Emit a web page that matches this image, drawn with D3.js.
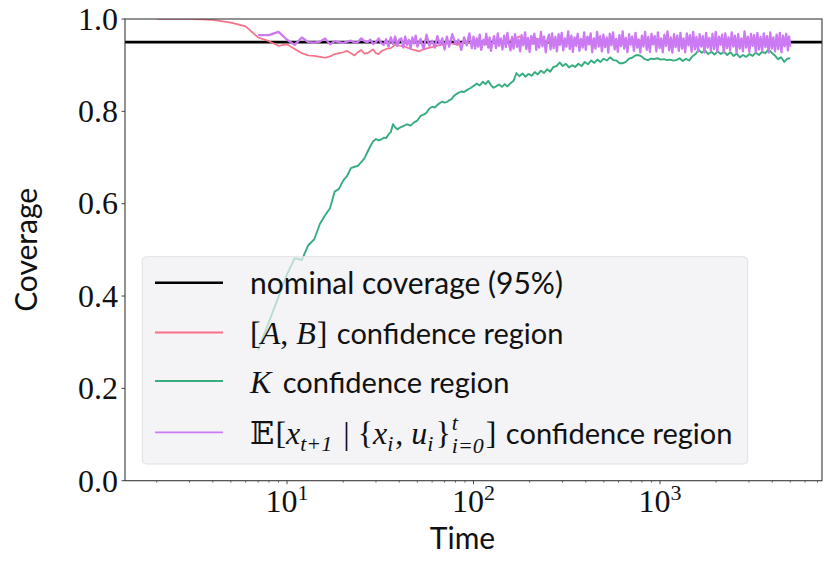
<!DOCTYPE html>
<html lang="en">
<head>
<meta charset="UTF-8">
<title>Coverage</title>
<script src="https://d3js.org/d3.v7.min.js"></script>
<style>
  body { margin: 0; background: #fff; }
</style>
</head>
<body>
<svg id="chart"></svg>
<script>
  // nominal coverage level
  const nominal = 0.95

  // [A, B] confidence region
  const redT = [2, 3, 4, 5, 6, 7, 8, 9, 10, 11, 12, 13, 14, 15, 16, 17, 18, 19, 20, 21,
    22, 23, 24, 25, 26, 27, 28, 29, 30, 31, 32, 34, 36, 38, 40, 43, 46, 49, 51, 54,
    57, 61, 65, 69,
    75, 82, 90, 99, 109, 120, 132, 145, 160, 176,
    194, 213, 234, 258, 284, 312, 343, 378, 415, 457,
    503, 553, 608, 669, 736, 810, 891, 980, 1078, 1186,
    1305, 1435, 1579, 1737, 1910, 2101, 2311, 2543, 2797, 3077,
    3384, 3723, 4095, 4505, 5000]
  const redV = [1.0, 1.0, 0.998, 0.992, 0.984, 0.96, 0.952, 0.942, 0.945, 0.935,
    0.926, 0.921, 0.92, 0.918, 0.916, 0.919, 0.924, 0.926, 0.928, 0.931,
    0.926, 0.921, 0.928, 0.933, 0.925, 0.926, 0.93, 0.934, 0.926, 0.924,
    0.93, 0.935, 0.937, 0.944, 0.942, 0.94, 0.935, 0.932, 0.93, 0.934,
    0.937, 0.94, 0.943, 0.945,
    0.948, 0.944, 0.951, 0.946, 0.95, 0.944, 0.952, 0.947, 0.955, 0.962,
    0.95, 0.96, 0.947, 0.952, 0.944, 0.953, 0.948, 0.955, 0.945, 0.952,
    0.946, 0.954, 0.944, 0.951, 0.947, 0.955, 0.945, 0.952, 0.948, 0.954,
    0.946, 0.951, 0.944, 0.953, 0.947, 0.952, 0.945, 0.953, 0.948, 0.951,
    0.946, 0.952, 0.947, 0.95, 0.948]

  // K confidence region
  const greenT = [7, 8, 9, 10, 11, 12, 13, 14, 15, 16,
    17, 18, 19, 20, 21, 22, 23, 24, 25, 26,
    27, 28, 29, 30, 31, 32, 33, 34, 35, 36,
    37, 38, 39, 40, 42, 44, 46, 48, 50, 52,
    54, 56, 58, 60, 62, 64, 66, 68, 70, 72,
    74, 76, 78, 80, 83, 86, 89, 92, 96, 100,
    104, 108, 112, 116, 120, 124, 128, 132, 137, 142,
    147, 152, 158, 164, 170, 176, 183, 190, 197, 205,
    213, 221, 230, 239, 248, 258, 268, 279, 290, 301,
    313, 325, 338, 351, 365, 380, 395, 411, 427, 444,
    462, 480, 499, 519, 540, 562, 584, 607, 631, 656,
    682, 709, 737, 766, 797, 829, 862, 896, 932, 969,
    1008, 1048, 1090, 1133, 1178, 1225, 1274, 1325, 1378, 1433,
    1490, 1550, 1612, 1676, 1743, 1813, 1885, 1960, 2038, 2120,
    2205, 2293, 2385, 2480, 2579, 2682, 2789, 2901, 3017, 3138,
    3263, 3394, 3530, 3671, 3818, 3970, 4130, 4290, 4460, 4640,
    4820, 5000]
  const greenV = [0.283, 0.344, 0.398, 0.447, 0.482, 0.478, 0.51, 0.523, 0.556, 0.575,
    0.59, 0.626, 0.632, 0.65, 0.66, 0.677, 0.68, 0.682, 0.69, 0.698,
    0.712, 0.725, 0.735, 0.74, 0.737, 0.739, 0.743, 0.742, 0.75, 0.755,
    0.772, 0.766, 0.761, 0.764, 0.768, 0.772, 0.769, 0.776, 0.78, 0.79,
    0.793, 0.797, 0.806, 0.81, 0.808, 0.814, 0.818, 0.821, 0.819, 0.82,
    0.824, 0.826, 0.832, 0.836, 0.84, 0.843, 0.842, 0.846, 0.85, 0.855,
    0.86, 0.856, 0.864, 0.859, 0.866, 0.857, 0.851, 0.854, 0.858, 0.853,
    0.859, 0.854, 0.861, 0.866, 0.883, 0.876, 0.882, 0.875, 0.881, 0.877,
    0.885, 0.88, 0.888, 0.883, 0.891, 0.886, 0.896, 0.898, 0.906, 0.898,
    0.903, 0.895, 0.9, 0.896, 0.903, 0.898, 0.907, 0.902, 0.91, 0.905,
    0.912, 0.907, 0.914, 0.91, 0.917, 0.911, 0.91, 0.904, 0.904, 0.907,
    0.914, 0.916, 0.921, 0.922, 0.919, 0.913, 0.911, 0.914, 0.913, 0.915,
    0.912, 0.913, 0.911, 0.912, 0.91, 0.911, 0.915, 0.909, 0.914, 0.91,
    0.919, 0.924, 0.933, 0.927, 0.932, 0.924, 0.929, 0.923, 0.93, 0.924,
    0.929, 0.922, 0.928, 0.92, 0.925, 0.917, 0.922, 0.918, 0.924, 0.92,
    0.927, 0.922, 0.929, 0.926, 0.934, 0.927, 0.921, 0.913, 0.917, 0.907,
    0.914, 0.915]

  // E[x_{t+1} | ...] confidence region
  const purpleT = [7, 8, 9, 10, 11, 12, 13, 14, 15, 16,
    17, 18, 19, 20, 21, 22, 23, 24, 25, 26,
    27, 28, 29, 30, 31, 32, 33, 34, 35, 36,
    37, 38, 39, 40,
    41, 42, 43, 44, 45, 46, 47, 48, 49, 50,
    52, 54, 56, 58, 60, 62, 64, 66, 68, 70,
    72, 74, 77, 80, 83, 86, 89, 92, 95, 98,
    100, 102, 104, 106, 108, 110, 113, 115, 117, 120,
    122, 124, 127, 129, 132, 135, 137, 140, 143, 146,
    149, 152, 155, 158, 161, 164, 167, 171, 174, 178,
    181, 185, 189, 192, 196, 200, 204, 208, 212, 217,
    221, 225, 230, 234, 239, 244, 249, 254, 259, 264,
    269, 275, 280, 286, 291, 297, 303, 309, 315, 322,
    328, 335, 341, 348, 355, 362, 370, 377, 385, 392,
    400, 408, 416, 425, 433, 442, 451, 460, 469, 478,
    488, 497, 507, 518, 528, 538, 549, 560, 571, 583,
    594, 606, 618, 631, 643, 656, 669, 683, 696, 710,
    725, 739, 754, 769, 784, 800, 816, 832, 849, 866,
    883, 901, 919, 937, 956, 975, 995, 1015, 1035, 1056,
    1077, 1098, 1120, 1143, 1165, 1189, 1213, 1237, 1262, 1287,
    1313, 1339, 1366, 1393, 1421, 1449, 1478, 1508, 1538, 1569,
    1600, 1632, 1665, 1698, 1732, 1767, 1802, 1838, 1875, 1912,
    1951, 1990, 2029, 2070, 2111, 2154, 2197, 2241, 2285, 2331,
    2378, 2425, 2474, 2523, 2574, 2625, 2678, 2731, 2786, 2841,
    2898, 2956, 3015, 3076, 3137, 3200, 3264, 3329, 3396, 3464,
    3533, 3604, 3676, 3749, 3824, 3901, 3979, 4058, 4139, 4222,
    4307, 4393, 4481, 4570, 4662, 4755, 4850, 4925, 5000]
  const purpleV = [0.965, 0.965, 0.972, 0.955, 0.944, 0.96, 0.95, 0.949, 0.951, 0.958,
    0.945, 0.952, 0.95, 0.948, 0.951, 0.953, 0.949, 0.95, 0.958, 0.952,
    0.95, 0.955, 0.946, 0.95, 0.958, 0.948, 0.944, 0.956, 0.94, 0.96,
    0.946, 0.962, 0.942, 0.955,
    0.958, 0.938, 0.962, 0.944, 0.955, 0.936, 0.96, 0.947, 0.964, 0.94,
    0.957, 0.935, 0.966, 0.942, 0.953, 0.938, 0.963, 0.945, 0.958, 0.934,
    0.962, 0.94, 0.967, 0.946, 0.955, 0.933, 0.96, 0.943, 0.969, 0.937,
    0.962, 0.936, 0.958, 0.94, 0.966, 0.933, 0.955, 0.944, 0.968, 0.938,
    0.96, 0.931, 0.952, 0.963, 0.937, 0.969, 0.942, 0.958, 0.934, 0.964,
    0.939, 0.97, 0.945, 0.932, 0.961, 0.936, 0.967, 0.94, 0.956, 0.93,
    0.965, 0.943, 0.971, 0.935, 0.959, 0.929, 0.963, 0.946, 0.968, 0.933,
    0.957, 0.938, 0.972, 0.941, 0.962, 0.928, 0.955, 0.966, 0.934, 0.969,
    0.937, 0.961, 0.93, 0.967, 0.944, 0.97, 0.932, 0.958, 0.94, 0.973,
    0.935, 0.964, 0.929, 0.96, 0.942, 0.968, 0.931, 0.957, 0.938, 0.971,
    0.933, 0.962, 0.945, 0.969, 0.928, 0.958, 0.936, 0.972, 0.94, 0.963,
    0.93, 0.966, 0.939, 0.96, 0.927, 0.968, 0.943, 0.971, 0.934, 0.957,
    0.929, 0.965, 0.941, 0.973, 0.936, 0.959, 0.928, 0.967, 0.944, 0.962,
    0.931, 0.97, 0.938, 0.956, 0.927, 0.964, 0.94, 0.972, 0.933, 0.961,
    0.929, 0.968, 0.945, 0.963, 0.93, 0.971, 0.937, 0.958, 0.928, 0.966,
    0.942, 0.973, 0.932, 0.96, 0.927, 0.967, 0.939, 0.964, 0.931, 0.97,
    0.936, 0.958, 0.928, 0.969, 0.943, 0.965, 0.929, 0.972, 0.934, 0.961,
    0.93, 0.967, 0.94, 0.963, 0.927, 0.97, 0.938, 0.959, 0.931, 0.968,
    0.935, 0.972, 0.929, 0.962, 0.944, 0.966, 0.928, 0.969, 0.937, 0.96,
    0.932, 0.971, 0.94, 0.964, 0.927, 0.967, 0.936, 0.958, 0.93, 0.973,
    0.938, 0.962, 0.929, 0.968, 0.942, 0.965, 0.928, 0.97, 0.934, 0.961,
    0.931, 0.969, 0.939, 0.963, 0.927, 0.971, 0.936, 0.96, 0.93, 0.966,
    0.935, 0.97, 0.928, 0.964, 0.941, 0.968, 0.932, 0.962, 0.94]

  const yTicks = [0, 0.2, 0.4, 0.6, 0.8, 1.0]
  const xTicks = [10, 100, 1000]
  const xTickExp = ['1', '2', '3']

  const width = 830
  const height = 563
  const margin = { left: 125, right: 8, top: 19, bottom: 82.3 }

  const serif = "'Liberation Serif', 'DejaVu Serif', serif"
  const sans = "Lato, 'Noto Sans', sans-serif"
  const ink = '#111'

  const svg = d3.select('#chart')
    .attr('width', width)
    .attr('height', height)

  // matplotlib-like 5% log margins around the data range
  const tMin = d3.min(redT), tMax = d3.max(redT)
  const lspan = Math.log10(tMax) - Math.log10(tMin)
  const x = d3.scaleLog()
    .domain([Math.pow(10, Math.log10(tMin) - 0.05 * lspan), Math.pow(10, Math.log10(tMax) + 0.05 * lspan)])
    .range([margin.left, width - margin.right])
  const y = d3.scaleLinear()
    .domain([0, 1])
    .range([height - margin.bottom, margin.top])

  const x0 = x.range()[0], x1 = x.range()[1]
  const y0 = y.range()[0], y1 = y.range()[1]

  svg.append('clipPath').attr('id', 'plotclip')
    .append('rect').attr('x', x0).attr('y', y1).attr('width', x1 - x0).attr('height', y0 - y1)

  const plot = svg.append('g').attr('clip-path', 'url(#plotclip)')

  // nominal line
  plot.append('line')
    .attr('x1', x0).attr('x2', x1)
    .attr('y1', y(nominal)).attr('y2', y(nominal))
    .attr('stroke', '#000')
    .attr('stroke-width', 2.6)

  const series = [
    { t: redT, v: redV, color: '#f77189', w: 1.7 },
    { t: greenT, v: greenV, color: '#36ad7e', w: 1.9 },
    { t: purpleT, v: purpleV, color: '#cc79f4', w: 2.3 }
  ]

  const line = d3.line()
    .x(d => x(d[0]))
    .y(d => y(d[1]))

  series.forEach(s => {
    plot.append('path')
      .datum(d3.zip(s.t, s.v))
      .attr('fill', 'none')
      .attr('stroke', s.color)
      .attr('stroke-width', s.w)
      .attr('stroke-linejoin', 'round')
      .attr('d', line)
  })

  // spines
  svg.append('rect')
    .attr('x', x0).attr('y', y1)
    .attr('width', x1 - x0).attr('height', y0 - y1)
    .attr('fill', 'none')
    .attr('stroke', '#3a3a3a')
    .attr('stroke-width', 1.1)

  // y ticks
  const yAxis = svg.append('g')
  yTicks.forEach(v => {
    yAxis.append('line')
      .attr('x1', x0).attr('x2', x0 - 3.5)
      .attr('y1', y(v)).attr('y2', y(v))
      .attr('stroke', '#333').attr('stroke-width', 0.9)
    yAxis.append('text')
      .attr('x', x0 - 7)
      .attr('y', y(v) + 10.8)
      .attr('text-anchor', 'end')
      .attr('font-family', serif)
      .attr('font-size', 32)
      .attr('fill', ink)
      .text(v.toFixed(1))
  })

  // x ticks (log axis with minor ticks)
  const xAxis = svg.append('g')
  const [dLo, dHi] = x.domain()
  for (let e = 0; e <= 4; e++) {
    for (let m = 1; m <= 9; m++) {
      const t = m * Math.pow(10, e)
      if (t < dLo || t > dHi) continue
      const major = m === 1
      xAxis.append('line')
        .attr('x1', x(t)).attr('x2', x(t))
        .attr('y1', y0).attr('y2', y0 + (major ? 3.5 : 2))
        .attr('stroke', '#333').attr('stroke-width', major ? 0.9 : 0.7)
    }
  }
  xTicks.forEach((t, i) => {
    const lab = xAxis.append('text')
      .attr('x', x(t))
      .attr('y', y0 + 31)
      .attr('text-anchor', 'middle')
      .attr('font-family', serif)
      .attr('font-size', 32)
      .attr('fill', ink)
    lab.append('tspan').text('10')
    lab.append('tspan')
      .attr('font-size', 22)
      .attr('dy', -12)
      .text(xTickExp[i])
  })

  // axis labels
  svg.append('text')
    .attr('x', 462.5)
    .attr('y', 548.5)
    .attr('text-anchor', 'middle')
    .attr('font-family', sans)
    .attr('font-size', 30)
    .attr('fill', ink)
    .text('Time')

  svg.append('text')
    .attr('transform', `translate(37, ${(y0 + y1) / 2}) rotate(-90)`)
    .attr('text-anchor', 'middle')
    .attr('font-family', sans)
    .attr('font-size', 30)
    .attr('fill', ink)
    .text('Coverage')

  // legend
  const legend = svg.append('g')
  legend.append('rect')
    .attr('x', 142.3).attr('y', 256.7)
    .attr('width', 605.4).attr('height', 207.3)
    .attr('rx', 4).attr('ry', 4)
    .attr('fill', 'rgb(239,239,243)')
    .attr('fill-opacity', 0.7)
    .attr('stroke', '#e2e2e6')
    .attr('stroke-width', 1)

  const rowY = [282.7, 332.5, 381, 432.3]
  const legendColors = ['#000', '#f77189', '#36ad7e', '#cc79f4']

  const M = 32 // math font size
  const S = 22 // script size
  const mathP = (text, italic, gap) => ({ text, font: serif, size: M, italic, gap })
  const subP = (text, gap) => ({ text, font: serif, size: S, italic: true, dy: 7, gap: gap === undefined ? 2 : gap })
  const words = (text) => ({ text, font: sans, size: 29, pre: 2 })

  const rows = [
    [{ text: 'nominal coverage (95%)', font: sans, size: 30 }],
    [mathP('['), mathP('A', true), mathP(', '), mathP('B', true, 1), mathP(']'), words(' confidence region')],
    [mathP('K', true, 2), words(' confidence region')],
    [mathP('𝔼', false, 1), mathP('['), mathP('x', true), subP('t+1', 3), mathP(' | '), mathP('{'),
      mathP('x', true), subP('i'), mathP(', '), mathP('u', true), subP('i'), mathP('}', false, 1),
      { stack: [{ text: 't', font: serif, size: S, italic: true, dy: -14 }, { text: 'i=0', font: serif, size: S, italic: true, dy: 9 }], gap: 2 },
      mathP(']'), words(' confidence region')]
  ]

  function putPiece(g, cx, base, p) {
    const t = g.append('text')
      .attr('x', cx)
      .attr('y', base + (p.dy || 0))
      .attr('font-family', p.font)
      .attr('font-size', p.size)
      .attr('font-style', p.italic ? 'italic' : 'normal')
      .attr('fill', ink)
      .style('white-space', 'pre')
      .text(p.text)
    return t.node().getComputedTextLength()
  }

  rows.forEach((pieces, i) => {
    legend.append('line')
      .attr('x1', 155).attr('x2', 223)
      .attr('y1', rowY[i]).attr('y2', rowY[i])
      .attr('stroke', legendColors[i])
      .attr('stroke-width', i === 0 ? 2.4 : 1.8)
    let cx = 250
    const base = rowY[i] + 11.5
    pieces.forEach(p => {
      cx += p.pre || 0
      if (p.stack) {
        cx += d3.max(p.stack.map(s => putPiece(legend, cx, base, s)))
      } else {
        cx += putPiece(legend, cx, base, p)
      }
      cx += p.gap || 0
    })
  })
</script>
</body>
</html>
